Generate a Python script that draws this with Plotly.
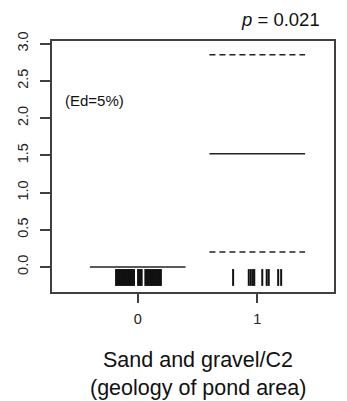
import plotly.graph_objects as go

# ---- data ----
groups = [0, 1]
group_labels = ["0", "1"]
medians = [0.0, 1.52]
lower_q = [None, 0.20]
upper_q = [None, 2.85]
half_width = 0.4

rug_y = -0.141
rug0 = [-0.181, -0.171, -0.161, -0.151, -0.141, -0.131, -0.121, -0.111, -0.101,
        -0.091, -0.081, -0.071, -0.061, -0.051, -0.041, -0.031,
        0.003, 0.013, 0.023, 0.033,
        0.064, 0.074, 0.084, 0.094, 0.104, 0.114, 0.124, 0.134, 0.144, 0.154,
        0.164, 0.174, 0.184, 0.194]
rug1 = [0.798, 0.929, 0.946, 0.963, 0.975, 1.042, 1.079, 1.096, 1.175, 1.200]

yticks = [0.0, 0.5, 1.0, 1.5, 2.0, 2.5, 3.0]
ytick_text = ["0.0", "0.5", "1.0", "1.5", "2.0", "2.5", "3.0"]

p_text = "<i>p</i> = 0.021"
ed_text = "(Ed=5%)"
xtitle1 = "Sand and gravel/C2"
xtitle2 = "(geology of pond area)"

FONT = "Liberation Sans, Arial, sans-serif"
INK = "#222222"
AXIS = "#404040"

fig = go.Figure()

# median lines
for g, m in zip(groups, medians):
    fig.add_trace(go.Scatter(x=[g - half_width, g + half_width], y=[m, m], mode="lines",
                             line=dict(color=INK, width=1.5), showlegend=False, hoverinfo="skip"))
# quantile dashed lines
for g, lo, hi in zip(groups, lower_q, upper_q):
    for v in (lo, hi):
        if v is None:
            continue
        fig.add_trace(go.Scatter(x=[g - half_width, g + half_width], y=[v, v], mode="lines",
                                 line=dict(color=INK, width=1.5, dash="6px,4px"),
                                 showlegend=False, hoverinfo="skip"))
# rugs
for xs in (rug0, rug1):
    fig.add_trace(go.Scatter(x=xs, y=[rug_y] * len(xs), mode="markers",
                             marker=dict(symbol="line-ns", size=12,
                                         line=dict(color="#111111", width=2)),
                             showlegend=False, hoverinfo="skip"))

fig.update_layout(
    width=347, height=401,
    margin=dict(l=52, r=11, t=41, b=109),
    paper_bgcolor="white", plot_bgcolor="white",
    font=dict(family=FONT, color=INK),
    xaxis=dict(range=[-0.717, 1.642], tickvals=groups, ticktext=group_labels,
               showgrid=False, zeroline=False, showline=True, mirror=True,
               linecolor=AXIS, linewidth=1.8, ticks="outside", ticklen=9,
               tickcolor=AXIS, tickwidth=1.8, tickfont=dict(size=14.5, color=INK),
               ticklabelstandoff=4),
    yaxis=dict(range=[-0.336, 3.036], tickvals=yticks, ticktext=ytick_text,
               showgrid=False, zeroline=False, showline=True, mirror=True,
               linecolor=AXIS, linewidth=1.8, ticks="outside", ticklen=10,
               tickcolor=AXIS, tickwidth=1.8, tickangle=-90,
               tickfont=dict(size=14.5, color=INK), ticklabelstandoff=6),
    annotations=[
        dict(text=p_text, xref="paper", yref="paper", x=0.958, y=1.084,
             xanchor="right", yanchor="middle", showarrow=False,
             font=dict(size=18.5, color="#111111")),
        dict(text=ed_text, xref="paper", yref="y", x=0.039, y=2.24,
             xanchor="left", yanchor="middle", showarrow=False,
             font=dict(size=15, color="#111111")),
        dict(text=xtitle1, xref="paper", yref="paper", x=0.518, y=(292 - 360) / 251,
             xanchor="center", yanchor="middle", showarrow=False,
             font=dict(size=21.5, color="#111111")),
        dict(text=xtitle2, xref="paper", yref="paper", x=0.518, y=(292 - 388) / 251,
             xanchor="center", yanchor="middle", showarrow=False,
             font=dict(size=21.5, color="#111111")),
    ],
)

fig.write_html("out.html")
